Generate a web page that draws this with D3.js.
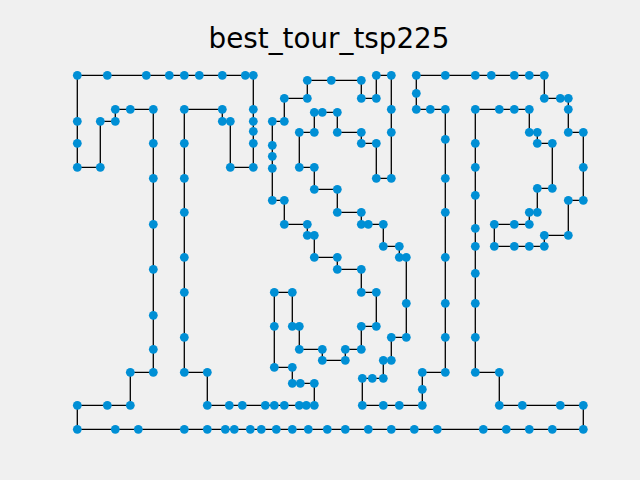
<!DOCTYPE html>
<html>
<head>
<meta charset="utf-8">
<script src="https://cdn.jsdelivr.net/npm/d3@7"></script>
<style>
  html, body { margin: 0; padding: 0; background: #f0f0f0; }
  svg { display: block; }
</style>
</head>
<body>
<div id="chart"></div>
<script>
const title = "best_tour_tsp225";

// tour order, city coordinates
const tourX = [
  0, 30, 69, 92, 107, 122, 145, 168, 176, 176, 176, 176, 176, 176, 153, 153, 145, 145, 107, 107,
  107, 107, 107, 107, 107, 107, 130, 130, 152, 165, 188, 197, 207, 222, 229, 237, 237, 223, 215, 215,
  197, 197, 197, 215, 215, 222, 222, 245, 245, 268, 268, 284, 284, 299, 299, 284, 284, 260, 260, 237,
  237, 230, 230, 207, 207, 195, 195, 195, 195, 195, 207, 207, 230, 230, 254, 284, 284, 299, 299, 314,
  314, 314, 314, 299, 299, 284, 284, 260, 260, 245, 237, 237, 222, 222, 237, 237, 260, 260, 284, 284,
  291, 306, 306, 322, 322, 329, 329, 329, 314, 314, 306, 306, 295, 285, 285, 306, 322, 345, 345, 345,
  368, 368, 368, 368, 368, 368, 368, 368, 353, 339, 339, 339, 368, 398, 414, 437, 452, 467, 467, 483,
  491, 491, 491, 506, 506, 506, 491, 491, 467, 467, 452, 437, 417, 417, 437, 452, 452, 460, 460, 475,
  475, 460, 460, 452, 452, 437, 422, 398, 398, 398, 398, 398, 398, 398, 398, 398, 398, 422, 422, 445,
  483, 506, 506, 475, 452, 429, 406, 360, 337, 314, 291, 268, 250, 231, 215, 199, 184, 173, 157, 148,
  130, 107, 61, 38, 0, 0, 30, 53, 53, 76, 76, 76, 76, 76, 76, 76, 76, 53, 38, 38,
  23, 23, 0, 0, 0
];
const tourY = [
  354, 354, 354, 354, 354, 354, 354, 354, 354, 320, 308, 298, 286, 262, 262, 308, 308, 320, 320, 286,
  251, 217, 172, 137, 92, 57, 57, 24, 24, 24, 24, 24, 24, 24, 24, 24, 46, 46, 46, 62,
  62, 103, 137, 137, 103, 103, 80, 80, 69, 69, 80, 80, 103, 103, 137, 137, 160, 160, 172, 172,
  194, 194, 205, 205, 229, 229, 261, 273, 284, 308, 308, 331, 331, 349, 349, 349, 331, 331, 354, 354,
  320, 297, 251, 251, 286, 286, 297, 297, 317, 317, 317, 297, 297, 262, 262, 240, 240, 217, 217, 205,
  205, 205, 183, 183, 172, 172, 126, 92, 92, 69, 69, 51, 51, 51, 24, 24, 24, 24, 40, 57,
  57, 92, 126, 172, 217, 251, 290, 320, 320, 320, 336, 354, 354, 354, 354, 354, 354, 354, 331, 331,
  331, 320, 297, 297, 262, 229, 229, 194, 194, 183, 183, 183, 183, 205, 205, 205, 217, 217, 241, 241,
  286, 286, 297, 297, 320, 320, 320, 320, 286, 262, 234, 201, 183, 156, 126, 92, 57, 57, 24, 24,
  24, 24, 0, 0, 0, 0, 0, 0, 0, 0, 0, 0, 0, 0, 0, 0, 0, 0, 0, 0,
  0, 0, 0, 0, 0, 24, 24, 24, 57, 57, 80, 114, 160, 205, 251, 286, 320, 320, 320, 308,
  308, 262, 262, 286, 308
];

const width = 640, height = 480;

const svg = d3.select("#chart").append("svg")
  .attr("width", width)
  .attr("height", height)
  .style("background", "#f0f0f0");

const x = d3.scaleLinear().domain(d3.extent(tourX)).range([77.3, 583.3]);
const y = d3.scaleLinear().domain(d3.extent(tourY)).range([429.3, 75.3]);

const pts = tourX.map((d, i) => [d, tourY[i]]);

const line = d3.line()
  .x(d => x(d[0]))
  .y(d => y(d[1]))
  .curve(d3.curveLinearClosed);

svg.append("path")
  .datum(pts)
  .attr("d", line)
  .attr("fill", "none")
  .attr("stroke", "#000")
  .attr("stroke-width", 1.3)
  .attr("stroke-linejoin", "round");

svg.append("g")
  .selectAll("circle")
  .data(pts)
  .enter()
  .append("circle")
  .attr("cx", d => x(d[0]))
  .attr("cy", d => y(d[1]))
  .attr("r", 4.4)
  .attr("fill", "#008fd5");

svg.append("text")
  .attr("x", 329)
  .attr("y", 47.8)
  .attr("text-anchor", "middle")
  .style("font-family", "DejaVu Sans")
  .style("font-size", "27.8px")
  .style("fill", "#000")
  .text(title);
</script>
</body>
</html>
